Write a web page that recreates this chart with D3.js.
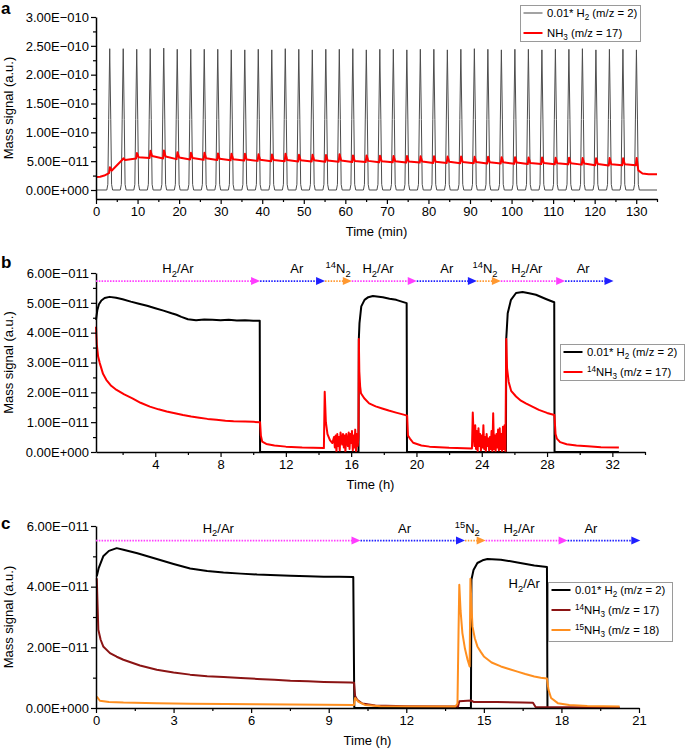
<!DOCTYPE html>
<html>
<head>
<meta charset="utf-8">
<script src="https://cdn.jsdelivr.net/npm/d3@7"></script>
<style>
  body { margin: 0; background: #fff; }
  svg { display: block; }
</style>
</head>
<body>
<svg id="chart" width="685" height="749"></svg>
<script>
// all signals are in units of 1e-11 a.u.

// ---- panel a : H2 pulses, time in min
var aPeakTimes = [3.3, 6.55, 9.8, 13.05, 16.3, 19.55, 22.8, 26.05, 29.3, 32.55,
  35.8, 39.05, 42.3, 45.55, 48.8, 52.05, 55.3, 58.55, 61.8, 65.05,
  68.3, 71.55, 74.8, 78.05, 81.3, 84.55, 87.8, 91.05, 94.3, 97.55,
  100.8, 104.05, 107.3, 110.55, 113.8, 117.05, 120.3, 123.55, 126.8, 130.05];
var aH2Peak = [24.5, 24.5, 24.4, 24.5, 24.6, 24.4, 24.4, 24.4, 24.4, 24.3,
  24.3, 24.4, 24.3, 24.5, 24.4, 24.3, 24.4, 24.4, 24.5, 24.3,
  24.4, 24.4, 24.3, 24.4, 24.4, 24.3, 24.4, 24.5, 24.4, 24.3,
  24.4, 24.4, 24.3, 24.4, 24.4, 24.5, 24.3, 24.4, 24.4, 24.3];
var aPulseOffset = [-0.7, -0.45, -0.25, 0, 0.25, 0.45, 0.7];
var aPulseShape = [0, 0.04, 0.5, 1, 0.5, 0.04, 0];
var aNH3Start = [[0, 2.25], [1, 2.3], [2, 2.5], [2.9, 2.85]];
var aNH3Before = [2.95, 5.3, 5.45, 5.55, 5.45, 5.35, 5.3, 5.25, 5.2, 5.15,
  5.1, 5.05, 5.0, 5.0, 4.95, 4.95, 4.9, 4.9, 4.85, 4.85,
  4.8, 4.8, 4.75, 4.75, 4.7, 4.7, 4.65, 4.65, 4.6, 4.6,
  4.55, 4.5, 4.5, 4.45, 4.45, 4.4, 4.3, 4.25, 4.3, 4.3];
var aNH3Spike = [3.95, 5.5, 6.4, 6.8, 6.85, 6.55, 6.45, 6.45, 6.35, 6.3,
  6.3, 6.2, 6.15, 6.3, 6.1, 6.1, 6.05, 6.2, 6.0, 6.0,
  5.95, 5.9, 5.9, 5.85, 5.85, 5.8, 5.8, 5.75, 5.75, 5.7,
  5.7, 5.65, 5.65, 5.6, 5.6, 5.55, 5.5, 5.55, 5.5, 5.55];
var aNH3After = [3.35, 5.2, 5.7, 5.9, 5.8, 5.65, 5.55, 5.5, 5.4, 5.35,
  5.3, 5.25, 5.2, 5.2, 5.15, 5.15, 5.1, 5.1, 5.05, 5.05,
  5.0, 5.0, 4.95, 4.95, 4.9, 4.9, 4.85, 4.85, 4.8, 4.8,
  4.75, 4.7, 4.7, 4.65, 4.65, 4.6, 4.5, 4.45, 4.45, 3.4];
var aNH3End = [[131.5, 2.85], [133, 2.75], [135, 2.75]];
var aXTicks = [0, 10, 20, 30, 40, 50, 60, 70, 80, 90, 100, 110, 120, 130];
var aXMinor = [5, 15, 25, 35, 45, 55, 65, 75, 85, 95, 105, 115, 125, 135];
var aYTicks = [0, 5, 10, 15, 20, 25, 30];
var aYMinor = [2.5, 7.5, 12.5, 17.5, 22.5, 27.5];
var aYLabels = ["0.00E+000", "5.00E\u2212011", "1.00E\u2212010", "1.50E\u2212010",
  "2.00E\u2212010", "2.50E\u2212010", "3.00E\u2212010"];

// ---- panel b : switching H2/Ar, Ar, 14N2, time in h
var bH2 = [[0.37, 4.43], [0.45, 4.75], [0.55, 4.95], [0.7, 5.08], [0.9, 5.16], [1.2, 5.2],
  [1.6, 5.17], [2.0, 5.12], [2.5, 5.04], [3.0, 4.97], [3.5, 4.9], [4.0, 4.82], [4.5, 4.74],
  [5.0, 4.65], [5.3, 4.6], [5.6, 4.53], [6.0, 4.45], [6.5, 4.42], [7.0, 4.44], [7.5, 4.43],
  [8.0, 4.42], [8.5, 4.43], [9.0, 4.41], [9.5, 4.42], [10.0, 4.4], [10.4, 4.4], [10.42, 0],
  [16.45, 0], [16.47, 3.79], [16.51, 4.32], [16.62, 4.88], [16.82, 5.1], [17.05, 5.19],
  [17.33, 5.23], [17.94, 5.19], [18.35, 5.14], [18.76, 5.1], [19.1, 5.04], [19.4, 4.99],
  [19.42, 0], [25.48, 0], [25.5, 3.79], [25.59, 4.65], [25.79, 5.1], [26.1, 5.33],
  [26.5, 5.36], [26.9, 5.32], [27.32, 5.27], [27.93, 5.13], [28.2, 5.07], [28.44, 5.02],
  [28.46, 0], [32.4, 0]];
var bNH3 = [[0.37, 4.2], [0.42, 3.6], [0.5, 3.2], [0.6, 2.98], [0.8, 2.62], [1.0, 2.42],
  [1.3, 2.22], [1.63, 2.08], [2.1, 1.93], [2.6, 1.8], [3.1, 1.65], [3.67, 1.52], [4.2, 1.43],
  [4.7, 1.36], [5.2, 1.3], [5.7, 1.24], [6.2, 1.19], [6.7, 1.15], [7.2, 1.11], [7.75, 1.08],
  [8.3, 1.05], [8.8, 1.03], [9.5, 1.02], [10.0, 1.01], [10.42, 1.0], [10.47, 0.55],
  [10.55, 0.35], [10.8, 0.27], [11.3, 0.22], [12, 0.18], [13, 0.15], [14.33, 0.13],
  [14.38, 2.02], [14.45, 1.0], [14.55, 0.6], [14.7, 0.4], [14.85, 0.3], [14.95, 0.5],
  [15.0, 0.15], [15.05, 0.55], [15.1, 0.0], [15.15, 0.6], [15.2, 0.2], [15.25, 0.5],
  [15.3, 0.05], [15.35, 0.65], [15.45, 0.25], [15.5, 0.6], [15.55, 0.15], [15.6, 0.55],
  [15.65, 0.0], [15.7, 0.6], [15.8, 0.2], [15.85, 0.65], [15.9, 0.1], [15.95, 0.6],
  [16.0, 0.3], [16.05, 0.7], [16.1, 0.05], [16.15, 0.55], [16.2, 0.15], [16.25, 0.75],
  [16.3, 0.0], [16.35, 0.6], [16.4, 0.2], [16.45, 0.5], [16.47, 3.79], [16.5, 2.7],
  [16.55, 2.2], [16.6, 1.97], [16.8, 1.8], [17.1, 1.63], [17.5, 1.53], [17.9, 1.46],
  [18.3, 1.39], [18.75, 1.32], [19.1, 1.27], [19.43, 1.22], [19.48, 0.55], [19.6, 0.45],
  [19.8, 0.31], [20.3, 0.22], [20.8, 0.18], [22, 0.14], [23.4, 0.12], [23.45, 1.32],
  [23.5, 0.6], [23.55, 0.2], [23.6, 0.9], [23.65, 0.1], [23.7, 0.7], [23.75, 0.0],
  [23.8, 0.8], [23.85, 0.2], [23.9, 0.6], [23.95, 0.05], [24.0, 0.55], [24.05, 0.15],
  [24.1, 0.9], [24.15, 0.1], [24.2, 0.5], [24.25, 0.0], [24.3, 0.6], [24.35, 0.2],
  [24.4, 0.45], [24.45, 0.05], [24.5, 0.5], [24.55, 0.1], [24.6, 0.7], [24.65, 0.0],
  [24.7, 1.3], [24.75, 0.1], [24.8, 0.55], [24.85, 0.0], [24.9, 0.6], [24.95, 0.15],
  [25.0, 0.75], [25.05, 0.05], [25.1, 0.8], [25.15, 0.1], [25.2, 0.6], [25.25, 0.0],
  [25.3, 0.85], [25.35, 0.1], [25.4, 0.9], [25.45, 0.0], [25.5, 3.79], [25.55, 2.8],
  [25.65, 2.35], [25.8, 2.05], [26.1, 1.86], [26.4, 1.72], [26.7, 1.63], [27.1, 1.52],
  [27.5, 1.41], [28.0, 1.31], [28.45, 1.24], [28.52, 0.6], [28.6, 0.45], [28.8, 0.33],
  [29.2, 0.26], [29.8, 0.22], [30.5, 0.19], [31.3, 0.16], [32.4, 0.15]];
var bPhaseEdges = [0.37, 10.42, 14.4, 16.04, 20.02, 23.7, 25.17, 29.11, 32.07];
var bPhaseGas = ["h2", "ar", "n2", "h2", "ar", "n2", "h2", "ar"];
var bPhaseLabelT = [5.39, 12.67, 15.2, 17.65, 21.86, 24.2, 26.76, 30.21];
var bPhaseLevel = 5.73;
var bXTicks = [4, 8, 12, 16, 20, 24, 28, 32];
var bXMinor = [2, 6, 10, 14, 18, 22, 26, 30, 34];
var bYTicks = [0, 1, 2, 3, 4, 5, 6];
var bYMinor = [0.5, 1.5, 2.5, 3.5, 4.5, 5.5];
var bYLabels = ["0.00E+000", "1.00E\u2212011", "2.00E\u2212011", "3.00E\u2212011",
  "4.00E\u2212011", "5.00E\u2212011", "6.00E\u2212011"];

// ---- panel c : 15N2 isotope run, time in h
var cH2 = [[0.03, 4.34], [0.1, 4.6], [0.28, 5.0], [0.5, 5.18], [0.8, 5.27], [1.06, 5.22],
  [1.6, 5.1], [2.35, 4.91], [3.0, 4.75], [3.64, 4.6], [4.3, 4.52], [4.93, 4.47], [5.6, 4.43],
  [6.23, 4.4], [7.0, 4.38], [7.52, 4.36], [8.2, 4.34], [8.81, 4.33], [9.4, 4.33],
  [9.95, 4.32], [9.99, 0], [14.5, 0], [14.52, 4.23], [14.6, 4.55], [14.75, 4.78],
  [14.95, 4.87], [15.14, 4.91], [15.66, 4.89], [16.3, 4.8], [16.95, 4.7], [17.44, 4.65],
  [17.46, 0], [20.25, 0]];
var c14NH3 = [[0.03, 4.28], [0.06, 3.4], [0.09, 2.58], [0.18, 2.25], [0.28, 2.03],
  [0.54, 1.81], [0.8, 1.69], [1.06, 1.59], [1.7, 1.4], [2.35, 1.26], [3.0, 1.17],
  [3.64, 1.1], [4.3, 1.05], [4.93, 1.02], [5.6, 0.99], [6.23, 0.96], [6.9, 0.93],
  [7.52, 0.9], [8.2, 0.88], [8.81, 0.86], [9.84, 0.84], [9.98, 0.83], [10.02, 0.4],
  [10.1, 0.27], [10.3, 0.15], [10.8, 0.08], [12, 0.06], [14.0, 0.05], [14.05, 0.22],
  [14.5, 0.25], [14.6, 0.2], [15.5, 0.2], [16.5, 0.18], [16.9, 0.17], [17.0, 0.03],
  [20.25, 0.02]];
var c15NH3 = [[0.03, 0.38], [0.15, 0.24], [0.5, 0.2], [1.06, 0.18], [2.35, 0.16],
  [3.64, 0.14], [5, 0.13], [6.23, 0.12], [8.81, 0.11], [9.98, 0.1], [10.02, 0.33],
  [10.15, 0.2], [10.4, 0.1], [11, 0.06], [13.9, 0.05], [13.98, 0.15], [14.02, 2.5],
  [14.05, 4.06], [14.1, 3.2], [14.17, 2.47], [14.27, 1.95], [14.37, 1.59], [14.45, 1.37],
  [14.48, 4.26], [14.52, 3.4], [14.56, 2.69], [14.65, 2.3], [14.75, 2.03], [14.88, 1.85],
  [15.0, 1.7], [15.3, 1.5], [15.66, 1.37], [16.0, 1.28], [16.3, 1.2], [16.6, 1.12],
  [16.95, 1.04], [17.2, 1.0], [17.44, 0.97], [17.5, 0.6], [17.6, 0.33], [17.86, 0.16],
  [18.3, 0.1], [19, 0.07], [20.25, 0.05]];
var cPhaseEdges = [0, 10.23, 14.27, 15.07, 18.24, 21.05];
var cPhaseGas = ["h2", "ar", "n2", "h2", "ar"];
var cPhaseLabelT = [4.73, 11.93, 14.36, 16.36, 19.14];
var cPhaseLevel = 5.52;
var cExtraLabel = [16.56, 3.95];
var cXTicks = [0, 3, 6, 9, 12, 15, 18, 21];
var cXMinor = [1.5, 4.5, 7.5, 10.5, 13.5, 16.5, 19.5];
var cYTicks = [0, 2, 4, 6];
var cYMinor = [1, 3, 5];
var cYLabels = ["0.00E+000", "2.00E\u2212011", "4.00E\u2212011", "6.00E\u2212011"];

// rich labels : [text, "" | "sub" | "sup"]
var lblH2 = [["0.01* H", ""], ["2", "sub"], [" (m/z = 2)", ""]];
var lblNH3 = [["NH", ""], ["3", "sub"], [" (m/z = 17)", ""]];
var lbl14NH3 = [["14", "sup"], ["NH", ""], ["3", "sub"], [" (m/z = 17)", ""]];
var lbl15NH3 = [["15", "sup"], ["NH", ""], ["3", "sub"], [" (m/z = 18)", ""]];
var gasLabels = {
  h2: [["H", ""], ["2", "sub"], ["/Ar", ""]],
  ar: [["Ar", ""]],
  n2b: [["14", "sup"], ["N", ""], ["2", "sub"]],
  n2c: [["15", "sup"], ["N", ""], ["2", "sub"]]
};

var FONT = "Liberation Sans, Arial, Helvetica, sans-serif";
var gasColors = {h2: "#ff3cff", ar: "#1f1fff", n2: "#ff9830"};

var svg = d3.select("#chart");
svg.append("rect").attr("width", 685).attr("height", 749).attr("fill", "#fff");

function richText(sel, parts, size) {
  var off = 0;
  parts.forEach(function(p) {
    var target = p[1] === "sub" ? size * 0.3 : (p[1] === "sup" ? -size * 0.38 : 0);
    sel.append("tspan")
      .attr("dy", target - off)
      .attr("font-size", p[1] === "" ? size : size * 0.72)
      .text(p[0]);
    off = target;
  });
}

function drawAxes(x, y, xt, xlab, xm, yt, ylab, ym) {
  var y0 = y.range()[0], x0 = x.range()[0];

  var xg = svg.append("g")
    .attr("transform", "translate(0," + y0 + ")")
    .call(d3.axisBottom(x).tickValues(xt).tickFormat(xlab)
      .tickSizeInner(5).tickSizeOuter(0).tickPadding(3));
  svg.append("g")
    .attr("transform", "translate(0," + y0 + ")")
    .call(d3.axisBottom(x).tickValues(xm).tickFormat("").tickSize(3))
    .call(g => g.select(".domain").remove());

  var yg = svg.append("g")
    .attr("transform", "translate(" + x0 + ",0)")
    .call(d3.axisLeft(y).tickValues(yt).tickFormat(function(d, i) { return ylab[i]; })
      .tickSizeInner(5).tickSizeOuter(0).tickPadding(2));
  svg.append("g")
    .attr("transform", "translate(" + x0 + ",0)")
    .call(d3.axisLeft(y).tickValues(ym).tickFormat("").tickSize(3))
    .call(g => g.select(".domain").remove());

  svg.selectAll(".domain").attr("stroke-width", 1.5);
  svg.selectAll(".tick line").attr("stroke-width", 1.2);
  [xg, yg].forEach(function(g) {
    g.attr("font-family", FONT).attr("font-size", 13);
  });
}

function axisTitles(x, y, xTitle, letter, letterY) {
  var y0 = y.range()[0], y1 = y.range()[1];
  svg.append("text")
    .attr("transform", "translate(13," + ((y0 + y1) / 2) + ") rotate(-90)")
    .attr("text-anchor", "middle")
    .attr("font-family", FONT).attr("font-size", 13)
    .text("Mass signal (a.u.)");
  svg.append("text")
    .attr("x", (x.range()[0] + x.range()[1]) / 2)
    .attr("y", y0 + 37)
    .attr("text-anchor", "middle")
    .attr("font-family", FONT).attr("font-size", 13)
    .text(xTitle);
  svg.append("text")
    .attr("x", 1).attr("y", letterY)
    .attr("font-family", FONT).attr("font-size", 17).attr("font-weight", "bold")
    .text(letter);
}

function drawSeries(x, y, pts, color, width) {
  var line = d3.line()
    .x(function(d) { return x(d[0]); })
    .y(function(d) { return y(d[1]); });
  svg.append("path")
    .datum(pts)
    .attr("d", line)
    .attr("fill", "none")
    .attr("stroke", color)
    .attr("stroke-width", width)
    .attr("stroke-linejoin", "round");
}

// gas sequence arrows on top of a plot
function phaseArrows(x, y, edges, gases, labelT, level, n2Key) {
  var yy = y(level);
  gases.forEach(function(gas, i) {
    var x1 = x(edges[i]), x2 = x(edges[i + 1]);
    svg.append("line")
      .attr("x1", x1).attr("x2", x2 - 7)
      .attr("y1", yy).attr("y2", yy)
      .attr("stroke", gasColors[gas])
      .attr("stroke-width", 1.8)
      .attr("stroke-dasharray", "1.5,1.3");
    svg.append("path")
      .attr("d", "M" + x2 + "," + yy + "L" + (x2 - 9) + "," + (yy - 4) + "L" + (x2 - 9) + "," + (yy + 4) + "Z")
      .attr("fill", gasColors[gas]);
    var t = svg.append("text")
      .attr("x", x(labelT[i])).attr("y", yy - 8)
      .attr("text-anchor", "middle")
      .attr("font-family", FONT).attr("font-size", 13);
    richText(t, gasLabels[gas === "n2" ? n2Key : gas], 13);
  });
}

function legend(lx, ly, w, rows) {
  var g = svg.append("g").attr("transform", "translate(" + lx + "," + ly + ")");
  g.append("rect")
    .attr("x", 0.5).attr("y", 0.5)
    .attr("width", w).attr("height", rows.length * 20 - 2 + (rows.length === 3 ? 1 : -2))
    .attr("fill", "#fff").attr("stroke", "#9a9a9a").attr("stroke-width", 1);
  rows.forEach(function(r, i) {
    var ry = 8 + i * 20;
    g.append("line")
      .attr("x1", 3.5).attr("x2", 22.5)
      .attr("y1", ry).attr("y2", ry)
      .attr("stroke", r.color).attr("stroke-width", r.width);
    var t = g.append("text")
      .attr("x", 27).attr("y", ry + 4)
      .attr("font-family", FONT).attr("font-size", 11.3);
    richText(t, r.label, 11.3);
  });
}

// ---------- panel a
var xa = d3.scaleLinear().domain([0, 135]).range([96, 657]);
var ya = d3.scaleLinear().domain([-1.56, 30]).range([199, 17]);

var aH2Line = [[0, 0]];
aPeakTimes.forEach(function(t, i) {
  aPulseOffset.forEach(function(o, k) {
    aH2Line.push([t + o, aH2Peak[i] * aPulseShape[k]]);
  });
});
aH2Line.push([135, 0]);

var aNH3Line = aNH3Start.slice();
aPeakTimes.forEach(function(t, i) {
  aNH3Line.push([t - 0.15, aNH3Before[i]]);
  aNH3Line.push([t + 0.05, aNH3Spike[i]]);
  aNH3Line.push([t + 0.45, aNH3After[i]]);
});
aNH3Line = aNH3Line.concat(aNH3End);

drawSeries(xa, ya, aH2Line, "#4d4d4d", 1);
drawSeries(xa, ya, aNH3Line, "#ff0000", 2);
drawAxes(xa, ya, aXTicks, d3.format("d"), aXMinor, aYTicks, aYLabels, aYMinor);
axisTitles(xa, ya, "Time (min)", "a", 14);
legend(520, 5, 120, [
  {color: "#666", width: 1.2, label: lblH2},
  {color: "#ff0000", width: 2, label: lblNH3}
]);

// ---------- panel b
var xb = d3.scaleLinear().domain([0.37, 34]).range([96, 645]);
var yb = d3.scaleLinear().domain([0, 6]).range([452, 273]);

drawSeries(xb, yb, bH2, "#000", 2);
drawSeries(xb, yb, bNH3, "#ff0000", 2);
drawAxes(xb, yb, bXTicks, d3.format("d"), bXMinor, bYTicks, bYLabels, bYMinor);
axisTitles(xb, yb, "Time (h)", "b", 268);
phaseArrows(xb, yb, bPhaseEdges, bPhaseGas, bPhaseLabelT, bPhaseLevel, "n2b");
legend(560, 344, 124, [
  {color: "#000", width: 2, label: lblH2},
  {color: "#ff0000", width: 2, label: lbl14NH3}
]);

// ---------- panel c
var xc = d3.scaleLinear().domain([0, 21]).range([96, 639]);
var yc = d3.scaleLinear().domain([0, 6]).range([708, 526]);

drawSeries(xc, yc, cH2, "#000", 2);
drawSeries(xc, yc, c14NH3, "#8b1414", 2);
drawSeries(xc, yc, c15NH3, "#ff8f1f", 2);
drawAxes(xc, yc, cXTicks, d3.format("d"), cXMinor, cYTicks, cYLabels, cYMinor);
axisTitles(xc, yc, "Time (h)", "c", 529);
phaseArrows(xc, yc, cPhaseEdges, cPhaseGas, cPhaseLabelT, cPhaseLevel, "n2c");
var extra = svg.append("text")
  .attr("x", xc(cExtraLabel[0])).attr("y", yc(cExtraLabel[1]))
  .attr("text-anchor", "middle")
  .attr("font-family", FONT).attr("font-size", 13);
richText(extra, gasLabels.h2, 13);
legend(548, 582, 124, [
  {color: "#000", width: 2, label: lblH2},
  {color: "#8b1414", width: 2, label: lbl14NH3},
  {color: "#ff8f1f", width: 2, label: lbl15NH3}
]);
</script>
</body>
</html>
